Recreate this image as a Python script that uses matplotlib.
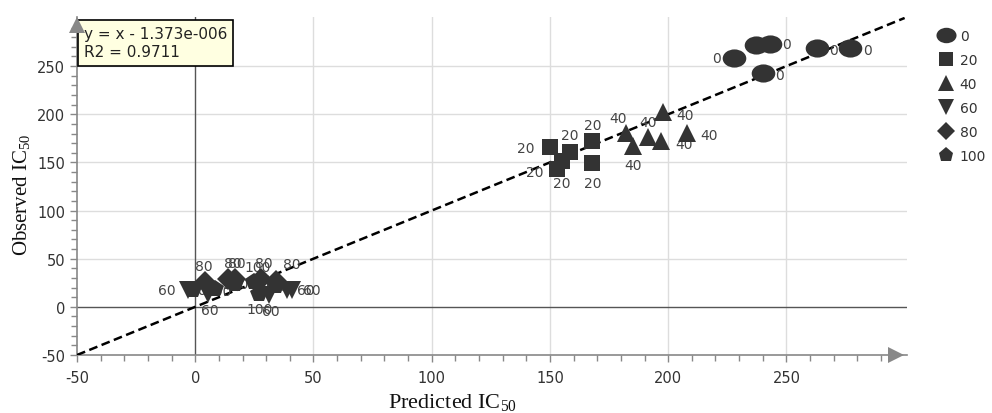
import matplotlib
matplotlib.use("Agg")
import matplotlib.pyplot as plt
from matplotlib.path import Path
from matplotlib.transforms import Affine2D
from matplotlib.lines import Line2D
import numpy as np

plt.rcParams['font.family'] = ['DejaVu Sans']
plt.rcParams['axes.unicode_minus'] = False
plt.rcParams['mathtext.fontset'] = 'custom'
plt.rcParams['mathtext.rm'] = 'Liberation Serif'
plt.rcParams['mathtext.it'] = 'Liberation Serif:italic'

# ---- data ----
series_names = ["0", "20", "40", "60", "80", "100"]
x0 = [228, 237, 243, 240, 263, 277]
y0 = [258, 272, 273, 243, 269, 269]
x20 = [150, 158.5, 155, 153, 168, 168]
y20 = [166, 161, 151, 143, 172, 149]
x40 = [182, 185, 191.5, 198, 197, 208]
y40 = [181, 167, 176, 202, 172, 181]
x60 = [-3, 5.5, 31, 39, 41]
y60 = [18, 13.5, 12.5, 17, 17]
x80 = [4, 14, 17, 28, 34]
y80 = [26, 29, 29, 29, 27]
x100 = [-1, 8.5, 17, 25, 27, 34]
y100 = [18, 19, 24, 26, 13, 22]

xs = [x0, x20, x40, x60, x80, x100]
ys = [y0, y20, y40, y60, y80, y100]

eq_text = "y = x - 1.373e-006\nR2 = 0.9711"
xticks = [-50, 0, 50, 100, 150, 200, 250]
yticks = [-50, 0, 50, 100, 150, 200, 250]

# ---- label offsets (pixels) ----
offs = [
    [(-18, 0), (16, -2), (17, 0), (17, -2), (16, -2), (17, -2)],
    [(-24, -1), (0, 17), (-27, -11), (5, -14), (0, 16), (0, -20)],
    [(-8, 15), (0, -19), (0, 15), (22, -3), (23, -3), (22, -2)],
    [(-21, 0), (2, -16), (2, -16), (18, 0), (20, 0)],
    [(-1, 16), (4, 16), (1, 16), (2, 16), (16, 17)],
    [(10, 0), (3, -2), (0, 0), (3, 15), (1, -15), (0, 0)],
]

ellipse = Path.unit_circle().transformed(Affine2D().scale(1.3, 1.0))
markers = [ellipse, 's', '^', 'v', 'D', 'p']
msizes = [17, 12, 13, 13, 11, 13]
mcolor = '#333333'

fig = plt.figure(figsize=(9.92, 4.14), dpi=100)
ax = fig.add_axes([77/992, 1-356/414, (907-77)/992, (356-18)/414])
ax.set_xlim(-50, 301)
ax.set_ylim(-50, 301)

# grid
for v in [50, 100, 150, 200, 250]:
    ax.axvline(v, color='#dddddd', lw=1, zorder=0)
    ax.axhline(v, color='#dddddd', lw=1, zorder=0)
ax.axvline(0, color='#555555', lw=1, zorder=1)
ax.axhline(0, color='#555555', lw=1, zorder=1)

for s in ['top', 'right']:
    ax.spines[s].set_visible(False)
for s in ['left', 'bottom']:
    ax.spines[s].set_color('#888888')
    ax.spines[s].set_linewidth(1.2)

ax.set_xticks(xticks)
ax.set_yticks(yticks)
ax.set_xticks(np.arange(-50, 300, 10), minor=True)
ax.set_yticks(np.arange(-50, 300, 10), minor=True)
ax.tick_params(which='major', length=5, color='#888888', labelsize=10.5,
               labelcolor='#333333', width=1)
ax.tick_params(which='minor', length=4, color='#888888', width=1)
ax.tick_params(axis='x', pad=6)

# arrows on axes (tips at the axis ends)
ax.plot([0.987], [0], marker='>', ms=11, color='#888888', transform=ax.transAxes,
        clip_on=False, zorder=9, markeredgewidth=0)
ax.plot([0], [0.975], marker='^', ms=11, color='#888888', transform=ax.transAxes,
        clip_on=False, zorder=9, markeredgewidth=0)

# fit line
ax.plot([-50, 300], [-50, 300], color='black', lw=1.8, ls=(0, (3.5, 1.8)), zorder=3)

# points
for i, name in enumerate(series_names):
    ax.plot(xs[i], ys[i], ls='none', marker=markers[i], ms=msizes[i],
            color=mcolor, markeredgewidth=0, zorder=4)
    for j, (xx, yy) in enumerate(zip(xs[i], ys[i])):
        dx, dy = offs[i][j]
        ax.annotate(name, (xx, yy), xytext=(dx, dy), textcoords='offset pixels',
                    ha='center', va='center', fontsize=10, color='#444444',
                    zorder=3.5)

# equation box
ax.text(0.008, 0.972, eq_text, transform=ax.transAxes, ha='left', va='top',
        fontsize=11, color='#222222', linespacing=1.25, zorder=7,
        bbox=dict(boxstyle='square,pad=0.4', fc='#ffffe1', ec='black', lw=1.2))

# legend
handles = [Line2D([], [], ls='none', marker=markers[i], ms=msizes[i]*0.85,
                  color=mcolor, markeredgewidth=0) for i in range(6)]
fig.legend(handles, series_names, loc='upper left', bbox_to_anchor=(932/992, 1-24/414),
           frameon=False, fontsize=10, handletextpad=0.4, labelspacing=0.72,
           borderaxespad=0, handlelength=1.2, labelcolor='#333333')

# axis labels
fig.text(452/992, 1-403/414, r"Predicted IC$_{50}$", ha='center', va='center',
         family='Liberation Serif', fontsize=16, color='#111111')
fig.text(22/992, 1-195/414, r"Observed IC$_{50}$", ha='center', va='center',
         rotation=90, family='Liberation Serif', fontsize=15, color='#111111')

fig.savefig('out.png', dpi=100)
